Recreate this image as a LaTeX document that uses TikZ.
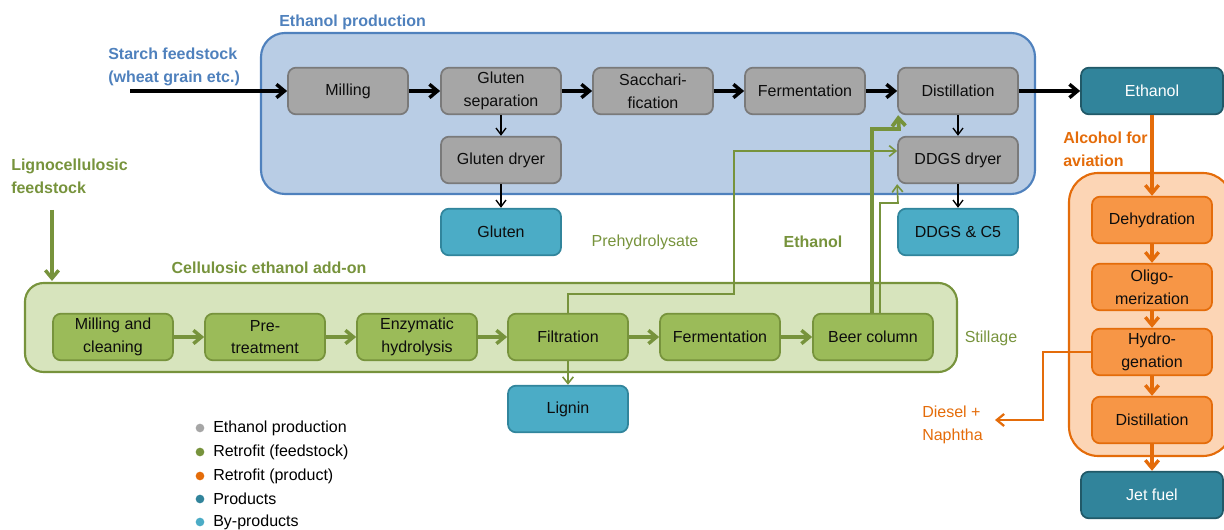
\documentclass[tikz,border=0pt]{standalone}
\usepackage{fontspec}
\setmainfont{Liberation Sans}
\usetikzlibrary{arrows.meta}
\definecolor{cgrey}{HTML}{A6A6A6}
\definecolor{cgreyd}{HTML}{7A7A7A}
\definecolor{bfill}{HTML}{B9CDE5}
\definecolor{bline}{HTML}{4F81BD}
\definecolor{gfill}{HTML}{D7E4BD}
\definecolor{gline}{HTML}{77933C}
\definecolor{gbox}{HTML}{9BBB59}
\definecolor{ofill}{HTML}{FCD5B5}
\definecolor{oline}{HTML}{E46C0A}
\definecolor{obox}{HTML}{F79646}
\definecolor{prod}{HTML}{31849B}
\definecolor{prodd}{HTML}{215968}
\definecolor{byp}{HTML}{4BACC6}
\definecolor{bypd}{HTML}{31859C}
\tikzset{
  box/.style={rounded corners=6pt, minimum width=90pt, minimum height=35pt, align=center,
    font=\fontsize{12}{17}\selectfont, line width=1.3pt, inner sep=1pt, text=black!95},
  greybox/.style={box, fill=cgrey, draw=cgreyd},
  greenbox/.style={box, fill=gbox, draw=gline},
  orangebox/.style={box, fill=obox, draw=oline},
  bybox/.style={box, fill=byp, draw=bypd},
  prodbox/.style={box, fill=prod, draw=prodd, text=white, minimum width=106.5pt},
  lbl/.style={inner sep=0pt, align=left, font=\fontsize{12}{17}\selectfont},
  blbl/.style={lbl, font=\fontsize{12}{17}\selectfont\bfseries},
  karr/.style={line width=2.6pt, black, -{Straight Barb[length=6pt,width=10pt]}},
  kthin/.style={line width=1pt, black, -{Straight Barb[length=5pt,width=7.5pt]}},
  garr/.style={line width=2.6pt, gline, -{Straight Barb[length=6pt,width=10pt]}},
  gthin/.style={line width=1.2pt, gline, -{Straight Barb[length=5pt,width=8pt]}},
  oarr/.style={line width=2.5pt, oline, -{Straight Barb[length=6pt,width=10pt]}},
  othin/.style={line width=1.7pt, oline, -{Straight Barb[length=5.5pt,width=9pt]}},
  dot/.style={circle, inner sep=0pt, minimum size=6.5pt}
}
\begin{document}
\begin{tikzpicture}[x=0.75pt,y=-0.75pt]
\clip (0,0) rectangle (1224,530);
\useasboundingbox (0,0) rectangle (1224,530);

% containers
\draw[fill=bfill, draw=bline, line width=1.6pt, rounded corners=18pt] (261,33) rectangle (1035,194);
\draw[fill=gfill, draw=gline, line width=1.6pt, rounded corners=14pt] (25,283) rectangle (957,372);
\draw[fill=ofill, draw=oline, line width=1.6pt, rounded corners=22pt] (1069,173) rectangle (1232,456);

% container labels
\node[blbl, text=bline, anchor=west] (lep) at (279,22) {Ethanol production};
\node[blbl, text=gline] (lcea) at (269,268) {Cellulosic ethanol add-on};
\node[blbl, text=bline, anchor=west] (lstarch) at (108,67) {Starch feedstock\\(wheat grain etc.)};
\node[blbl, text=gline, anchor=west] (llig) at (11,176) {Lignocellulosic\\feedstock};
\node[lbl, text=gline] (lpre) at (645,242) {Prehydrolysate};
\node[blbl, text=gline] (leth) at (813,242) {Ethanol};
\node[lbl, text=gline] (lstill) at (991,338) {Stillage};
\node[blbl, text=oline, anchor=west] (lalc) at (1063,149) {Alcohol for\\aviation};
\node[lbl, text=oline, anchor=west] (ldn) at (922,425) {Diesel +\\Naphtha};

% grey boxes
\node[greybox] (mill) at (348,91) {Milling};
\node[greybox] (glsep) at (501,91) {Gluten\\separation};
\node[greybox] (sacc) at (653,91) {Sacchari-\\fication};
\node[greybox] (ferm) at (805,91) {Fermentation};
\node[greybox] (dist) at (958,91) {Distillation};
\node[greybox] (gldry) at (501,160) {Gluten dryer};
\node[greybox] (ddgsdry) at (958,160) {DDGS dryer};

% by-products
\node[bybox] (gluten) at (501,232) {Gluten};
\node[bybox] (ddgs) at (958,232) {DDGS \& C5};
\node[bybox] (lignin) at (568,409) {Lignin};

% products
\node[prodbox] (eth) at (1152,91) {Ethanol};
\node[prodbox] (jet) at (1152,495) {Jet fuel};

% green boxes
\node[greenbox] (mc) at (113,337) {Milling and\\cleaning};
\node[greenbox] (pre) at (265,337) {Pre-\\treatment};
\node[greenbox] (enz) at (417,337) {Enzymatic\\hydrolysis};
\node[greenbox] (filt) at (568,337) {Filtration};
\node[greenbox] (gferm) at (720,337) {Fermentation};
\node[greenbox] (beer) at (873,337) {Beer column};

% orange boxes
\node[orangebox] (dehy) at (1152,220) {Dehydration};
\node[orangebox] (oligo) at (1152,287) {Oligo-\\merization};
\node[orangebox] (hydro) at (1152,352) {Hydro-\\genation};
\node[orangebox] (odist) at (1152,420) {Distillation};

% black flow
\coordinate (starch) at (130,91);
\draw[karr] (starch) -- (mill);
\draw[karr] (mill) -- (glsep);
\draw[karr] (glsep) -- (sacc);
\draw[karr] (sacc) -- (ferm);
\draw[karr] (ferm) -- (dist);
\draw[karr] (dist) -- (eth);
\draw[kthin] (glsep) -- (gldry);
\draw[kthin] (gldry) -- (gluten);
\draw[kthin] (dist) -- (ddgsdry);
\draw[kthin] (ddgsdry) -- (ddgs);

% green flow
\coordinate (ligstart) at (52,210);
\coordinate (ligend) at (52,281);
\draw[garr] (ligstart) -- (ligend);
\draw[garr] (mc) -- (pre);
\draw[garr] (pre) -- (enz);
\draw[garr] (enz) -- (filt);
\draw[garr] (filt) -- (gferm);
\draw[garr] (gferm) -- (beer);
\draw[gthin] (filt) -- (lignin);
\draw[gthin] (filt.north) |- (734,294) |- ([yshift=6.75pt]ddgsdry.west);
\draw[garr, line width=2.8pt] ([xshift=-0.75pt]beer.north) |- (899,129) -- ([xshift=0.75pt]dist.south west);
\draw[gthin] ([xshift=5.25pt]beer.north) |- (898,203) -- (ddgsdry.south west);

% orange flow
\draw[oarr] (eth) -- (dehy);
\draw[oarr] (dehy) -- (oligo);
\draw[oarr] (oligo) -- (hydro);
\draw[oarr] (hydro) -- (odist);
\draw[oarr] (odist) -- (jet);
\coordinate (dnend) at (995,420);
\draw[othin] (hydro.west) -| (1043,420) -- (dnend);

% legend
\node[dot, fill=cgrey] (d1) at (200,428) {};
\node[dot, fill=gline] (d2) at (200,452) {};
\node[dot, fill=oline] (d3) at (200,476) {};
\node[dot, fill=prod] (d4) at (200,499) {};
\node[dot, fill=byp] (d5) at (200,522) {};
\node[lbl, anchor=west] (t1) at (213,428) {Ethanol production};
\node[lbl, anchor=west] (t2) at (213,452) {Retrofit (feedstock)};
\node[lbl, anchor=west] (t3) at (213,476) {Retrofit (product)};
\node[lbl, anchor=west] (t4) at (213,499) {Products};
\node[lbl, anchor=west] (t5) at (213,522) {By-products};
\end{tikzpicture}
\end{document}
